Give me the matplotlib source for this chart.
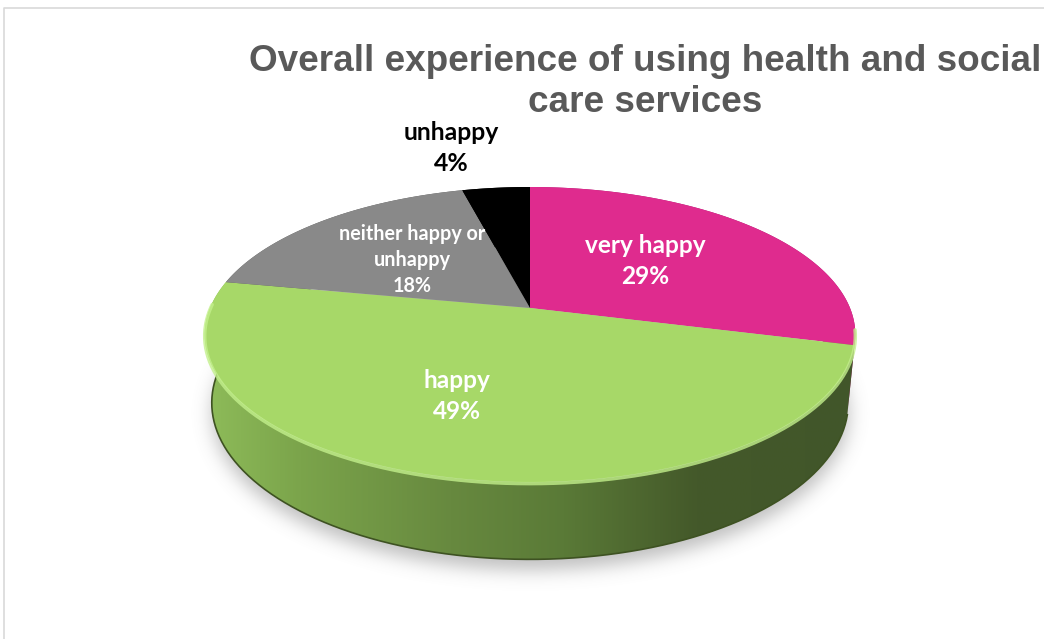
import textwrap

import numpy as np
import matplotlib.pyplot as plt
from matplotlib.patches import Polygon
from matplotlib.path import Path
from matplotlib.colors import LinearSegmentedColormap

# survey results
categories = ["very happy", "happy", "neither happy or unhappy", "unhappy"]
shares = [29, 49, 18, 4]
top_colors = ["#df2b8e", "#a7d868", "#898989", "#000000"]
wall_colors = ["#a1196a", "#6a8f3f", "#5c5c5c", "#000000"]
label_colors = ["white", "white", "white", "black"]
label_sizes = [17.6, 17.6, 14.2, 17.8]
label_xy = [(645, 261), (457, 396), (412, 260), (451, 148)]

title = "Overall experience of using health and social\ncare services"

W, H = 1044, 639
cx, cy, k = 530, 308, 320          # centre of the top face and radius in px
tilt = np.radians(26.5)
dist = 4.97
depth = 0.24


def project(phi, level=0.0):
    # perspective view of a point on the rim of the disc
    X = np.cos(phi)
    Z = np.sin(phi)
    yc = Z * np.sin(tilt) + level * np.cos(tilt)
    zc = Z * np.cos(tilt) - level * np.sin(tilt)
    s = dist / (dist + zc)
    return cx + k * X * s, cy - k * yc * s


def band(a0, a1, n=300):
    arc = np.radians(np.linspace(a0, a1, n))
    tx, ty = project(arc, 0.0)
    bx, by = project(arc[::-1], -depth)
    return np.column_stack([np.r_[tx, bx], np.r_[ty, by]])


def wedge(a0, a1, n=300):
    arc = np.radians(np.linspace(a0, a1, n))
    tx, ty = project(arc, 0.0)
    return np.column_stack([np.r_[cx, tx], np.r_[cy, ty]])


def blur(img, sigma):
    r = int(3 * sigma)
    g = np.exp(-0.5 * (np.arange(-r, r + 1) / sigma) ** 2)
    g /= g.sum()
    img = np.apply_along_axis(lambda v: np.convolve(v, g, mode="same"), 1, img)
    img = np.apply_along_axis(lambda v: np.convolve(v, g, mode="same"), 0, img)
    return img


bounds = 90 - 360 * np.r_[0, np.cumsum(shares)] / 100.0

fig = plt.figure(figsize=(W / 100, H / 100), dpi=100)
ax = fig.add_axes([0, 0, 1, 1])
ax.set_xlim(0, W)
ax.set_ylim(H, 0)
ax.axis("off")

# chart area frame
ax.plot([4, 4, W + 5], [H + 5, 8, 8], color="#d9d9d9", lw=1.2)

# soft shadow under the cylinder
full = np.linspace(0, 360, 400)
yy, xx = np.mgrid[0:H, 0:W]
pts = np.column_stack([xx.ravel(), yy.ravel() - 10])
shadow_path = Path(np.column_stack(project(np.radians(full), -depth)))
mask = shadow_path.contains_points(pts).reshape(H, W).astype(float)
mask = blur(mask, 9)
shade = np.zeros((H, W, 4))
shade[..., :3] = 0.5
shade[..., 3] = 0.5 * mask
ax.imshow(shade, extent=(0, W, H, 0), zorder=1, interpolation="bilinear")

# side walls
for i in range(len(shares)):
    if i == 1:
        continue
    ax.add_patch(Polygon(band(bounds[i], bounds[i + 1]), closed=True,
                         fc=wall_colors[i], ec="none", zorder=2))

green_wall = Polygon(band(bounds[1], bounds[2]), closed=True,
                     fc="none", ec="none", zorder=2)
ax.add_patch(green_wall)
side_cmap = LinearSegmentedColormap.from_list(
    "side",
    [(0.0, "#8fbd5a"), (0.15, "#7ba44b"), (0.38, "#67893f"),
     (0.55, "#5a7a37"), (0.75, "#44592a"), (1.0, "#41562a")])
grad = np.linspace(0, 1, 512).reshape(1, -1)
im = ax.imshow(grad, cmap=side_cmap, extent=(200, 862, 580, 180),
               aspect="auto", interpolation="bilinear", zorder=2)
im.set_clip_path(green_wall)

# darker lip along the bottom edge
arc = np.radians(np.linspace(bounds[1], bounds[2], 300))
bx, by = project(arc, -depth)
ax.plot(bx, by, color="#3e5222", lw=1.2, zorder=3)

# top faces
for i in range(len(shares)):
    ax.add_patch(Polygon(wedge(bounds[i], bounds[i + 1]), closed=True,
                         fc=top_colors[i], ec="none", zorder=4))

# light bevel on the front rim
front = np.radians(np.linspace(-8, -182, 300))
fx, fy = project(front, 0.0)
ax.plot(fx, fy + 1.5, color="#c3f08c", lw=2.5, alpha=0.8, zorder=5,
        solid_capstyle="round")

# data labels
for name, v, (lx, ly), c, fs in zip(categories, shares, label_xy,
                                    label_colors, label_sizes):
    ax.text(lx, ly, f"{textwrap.fill(name, 16)}\n{v}%", ha="center",
            va="center", color=c, fontsize=fs, fontweight="bold",
            family="Lato", linespacing=1.38, zorder=6)

ax.text(645, 82, title, ha="center", va="center", fontsize=26.6,
        fontweight="bold", family="Liberation Sans", color="#595959",
        linespacing=1.2, zorder=6)

fig.savefig("out.png", dpi=100)
